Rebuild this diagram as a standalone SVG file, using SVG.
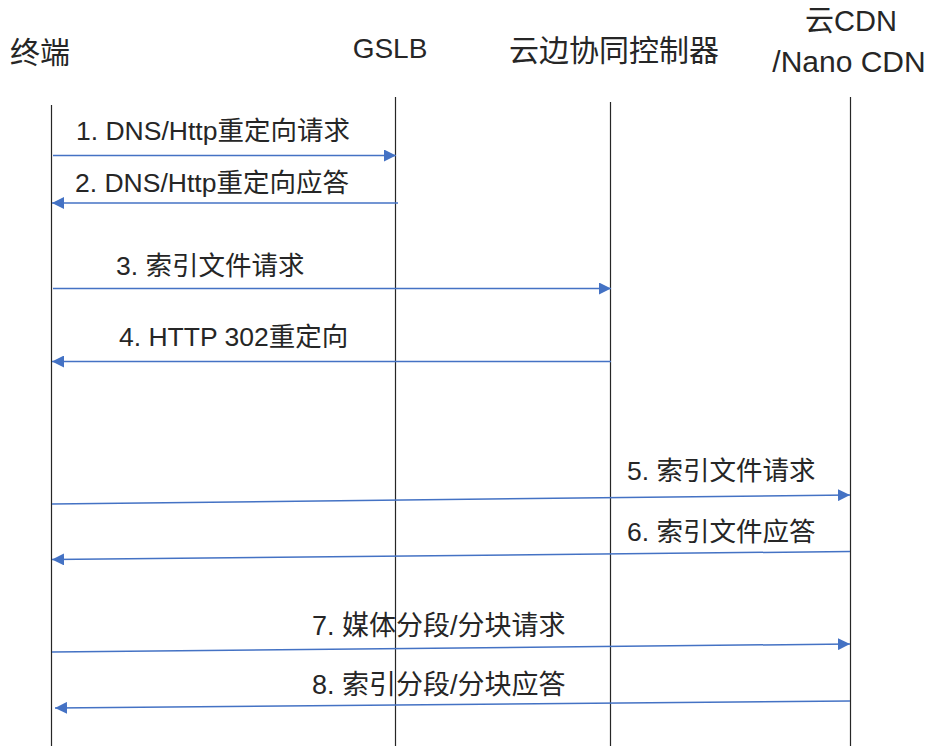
<svg xmlns="http://www.w3.org/2000/svg" width="929" height="746" viewBox="0 0 929 746">
<style>
text{font-family:"Liberation Sans","Noto Sans CJK SC",sans-serif;fill:#262626}
.h{font-size:29px}
.l{font-size:26.5px}
.life{stroke:#262626;stroke-width:1.2;fill:none}
.msg{stroke:#4472C4;stroke-width:1.5;fill:none;marker-end:url(#ah)}
</style>
<defs>
<marker id="ah" viewBox="0 0 12 12" refX="12" refY="6" markerWidth="12" markerHeight="12" markerUnits="userSpaceOnUse" orient="auto">
<path d="M0,0 L12,6 L0,12 Z" fill="#4472C4"/>
</marker>
</defs>
<rect width="929" height="746" fill="#ffffff"/>
<g id="terminal">
<text class="h" x="10" y="63" style="font-size:30px">终端</text>
<line class="life" x1="51.5" y1="105" x2="51.5" y2="746"/>
</g>
<g id="gslb">
<text class="h" x="390" y="58" text-anchor="middle" style="font-size:28px">GSLB</text>
<line class="life" x1="395.5" y1="97" x2="395.5" y2="746"/>
</g>
<g id="controller">
<text class="h" x="614" y="61" text-anchor="middle" style="font-size:30px">云边协同控制器</text>
<line class="life" x1="610.5" y1="102" x2="610.5" y2="746"/>
</g>
<g id="cdn">
<text class="h" x="851" y="31" text-anchor="middle">云CDN</text>
<text class="h" x="849" y="72" text-anchor="middle" style="font-size:30px">/Nano CDN</text>
<line class="life" x1="850.5" y1="97" x2="850.5" y2="746"/>
</g>
<g id="connectors">
<line class="msg" x1="53" y1="155.5" x2="396" y2="155.5"/>
<line class="msg" x1="398" y1="203" x2="52" y2="203"/>
<line class="msg" x1="53" y1="288.5" x2="611" y2="288.5"/>
<line class="msg" x1="611" y1="361.5" x2="52" y2="361.5"/>
<line class="msg" x1="52" y1="504" x2="850" y2="495"/>
<line class="msg" x1="850" y1="551.5" x2="52" y2="559.5"/>
<line class="msg" x1="52" y1="652" x2="850" y2="644"/>
<line class="msg" x1="850" y1="701" x2="55" y2="708"/>
</g>
<g id="labels">
<text class="l" x="76" y="140">1. DNS/Http重定向请求</text>
<text class="l" x="75" y="192">2. DNS/Http重定向应答</text>
<text class="l" x="116" y="275">3. 索引文件请求</text>
<text class="l" x="119" y="346">4. HTTP 302重定向</text>
<text class="l" x="627" y="480">5. 索引文件请求</text>
<text class="l" x="627" y="541">6. 索引文件应答</text>
<text class="l" x="312" y="635" style="font-size:27px">7. 媒体分段/分块请求</text>
<text class="l" x="312" y="694" style="font-size:27px">8. 索引分段/分块应答</text>
</g>
</svg>
